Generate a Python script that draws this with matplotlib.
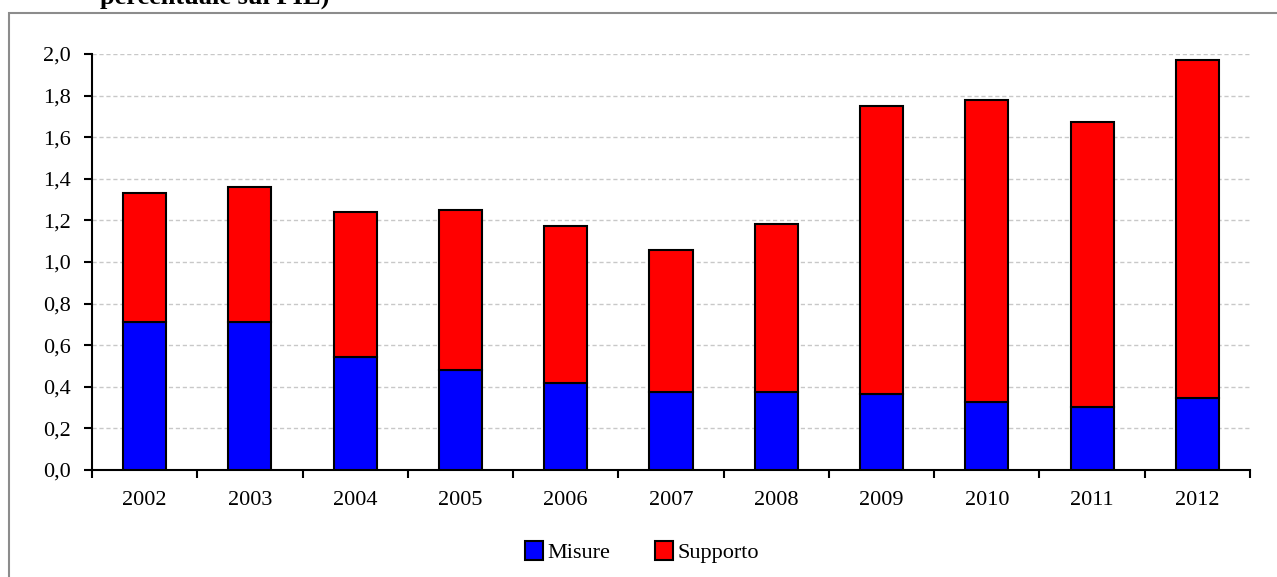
import numpy as np
import matplotlib.pyplot as plt
from matplotlib.patches import Rectangle, Patch

# data
years = ["2002", "2003", "2004", "2005", "2006", "2007", "2008", "2009", "2010", "2011", "2012"]
misure = [0.71, 0.71, 0.545, 0.48, 0.42, 0.375, 0.375, 0.365, 0.325, 0.305, 0.345]
totale = [1.33, 1.36, 1.24, 1.25, 1.175, 1.06, 1.185, 1.75, 1.78, 1.675, 1.97]
supporto = [t - m for t, m in zip(totale, misure)]

plt.rcParams['font.family'] = ['Liberation Serif', 'DejaVu Serif']

fig = plt.figure(figsize=(12.77, 5.77), dpi=100)
ax = fig.add_axes([92 / 1277, 107 / 577, 1158 / 1277, 416 / 577])

# outer frame of the chart area
fig.patches.append(Rectangle((9 / 1277, -0.05), 1.2, 1 - 13 / 577 + 0.05,
                             transform=fig.transFigure, fill=False,
                             edgecolor="#8c8c8c", lw=1.5))

# cut-off title from the page
fig.text(100 / 1277, 1 - 4 / 577, "percentuale sul PIL)", fontsize=19,
         fontweight="bold", ha="left", va="baseline")

x = np.arange(len(years))
ax.bar(x, misure, width=0.41, color="#0000ff", edgecolor="black", lw=1.5,
       label="Misure", zorder=3)
ax.bar(x, supporto, bottom=misure, width=0.41, color="#ff0000",
       edgecolor="black", lw=1.5, label="Supporto", zorder=3)

ax.set_xlim(-0.5, len(years) - 0.5)
ax.set_ylim(0, 2.0)
yt = np.arange(0, 2.01, 0.2)
ax.set_yticks(yt)
ax.set_yticklabels([f"{v:.1f}".replace(".", ",") for v in yt], fontsize=16)
ax.yaxis.grid(True, linestyle=(0, (3, 2)), color="#c8c8c8", lw=1, zorder=0)

ax.set_xticks(np.arange(-0.5, len(years), 1.0))
ax.set_xticklabels([])
ax.set_xticks(x, minor=True)
ax.set_xticklabels(years, minor=True, fontsize=16)
ax.tick_params(axis="x", which="minor", length=0, pad=15)
ax.tick_params(axis="x", which="major", length=6, width=1.5, direction="out")
ax.tick_params(axis="y", length=6, width=1.5, direction="out", pad=9)

for s in ["top", "right"]:
    ax.spines[s].set_visible(False)
for s in ["left", "bottom"]:
    ax.spines[s].set_linewidth(1.5)

handles = [Patch(facecolor="#0000ff", edgecolor="black", lw=1.5, label="Misure"),
           Patch(facecolor="#ff0000", edgecolor="black", lw=1.5, label="Supporto")]
fig.legend(handles=handles, loc="center", bbox_to_anchor=(642 / 1277, 1 - 552 / 577),
           ncol=2, frameon=False, fontsize=16, handlelength=0.8, handleheight=0.9,
           handletextpad=0.2, columnspacing=2.0)

fig.savefig("out.png", dpi=100)
